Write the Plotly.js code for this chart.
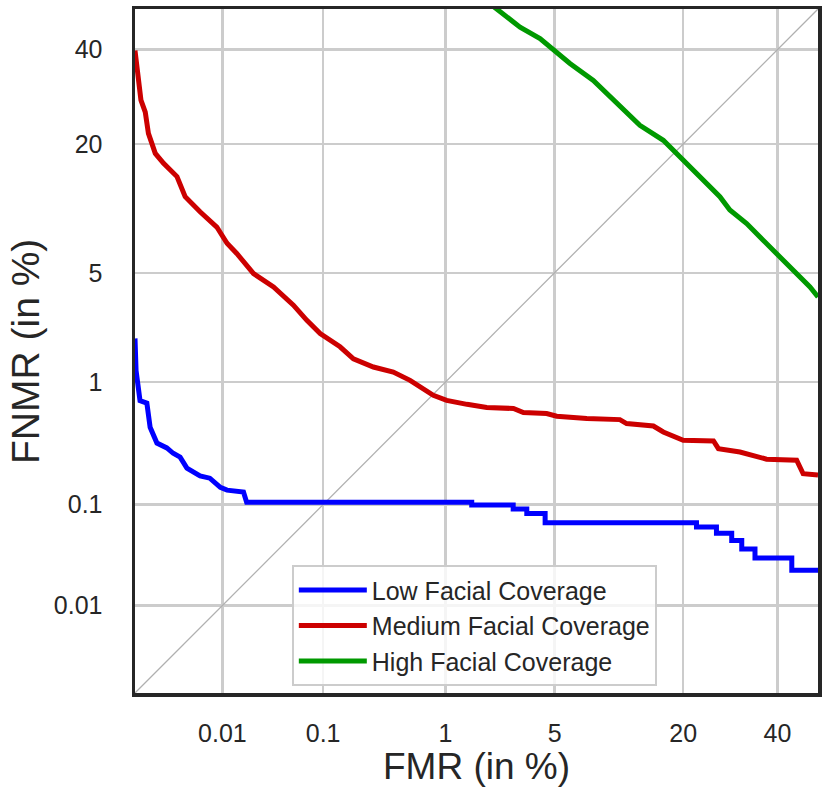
<!DOCTYPE html>
<html><head><meta charset="utf-8">
<script src="https://cdn.plot.ly/plotly-3.0.1.min.js"></script>
<style>html,body{margin:0;padding:0;background:#fff}</style>
</head><body><div id="chart" style="width:832px;height:795px"></div>
<script>
// Values in percent
const tickValuesPct = [0.01, 0.1, 1, 5, 20, 40];
const tickLabels = ['0.01', '0.1', '1', '5', '20', '40'];
const axisMinPct = 0.001, axisMaxPct = 50;

const diagPct = [0.001, 50];

const lowFMR = [0.001, 0.00103, 0.00115, 0.00139, 0.00152, 0.00183, 0.00239, 0.00283, 0.0034, 0.00406, 0.0057, 0.0073, 0.0095, 0.0112, 0.0167, 0.018, 1.53, 1.53, 2.85, 2.85, 3.45, 3.45, 4.42, 4.42, 22.4, 22.4, 26.3, 26.3, 29.5, 29.5, 31.7, 31.7, 34.7, 34.7, 43.5, 43.5, 50];
const lowFNMR = [2.0, 1.21, 0.73, 0.70, 0.455, 0.34, 0.31, 0.28, 0.26, 0.21, 0.18, 0.172, 0.143, 0.135, 0.13, 0.105, 0.105, 0.099, 0.099, 0.091, 0.091, 0.083, 0.083, 0.068, 0.068, 0.062, 0.062, 0.054, 0.054, 0.046, 0.046, 0.038, 0.038, 0.031, 0.031, 0.0233, 0.0233];

const medFMR = [0.001, 0.0011, 0.00118, 0.00133, 0.00145, 0.00175, 0.00219, 0.00313, 0.00388, 0.0057, 0.0087, 0.0112, 0.0142, 0.0212, 0.0337, 0.0527, 0.0707, 0.094, 0.142, 0.186, 0.275, 0.40, 0.543, 0.815, 1.02, 1.42, 1.93, 2.86, 3.29, 4.51, 5.14, 7.44, 10.8, 11.6, 15.2, 16.7, 20.0, 25.7, 26.7, 31.3, 34.3, 37.4, 44.7, 46.3, 50];
const medFNMR = [39.8, 32.8, 28.5, 26.0, 21.9, 18.4, 16.8, 14.8, 12.1, 10.3, 8.7, 7.2, 6.37, 4.95, 4.15, 3.24, 2.61, 2.15, 1.76, 1.46, 1.28, 1.18, 1.03, 0.80, 0.734, 0.685, 0.648, 0.637, 0.593, 0.583, 0.556, 0.533, 0.523, 0.487, 0.466, 0.418, 0.358, 0.354, 0.306, 0.287, 0.270, 0.250, 0.245, 0.188, 0.183];

const highFMR = [1.83, 2.30, 3.14, 4.13, 4.92, 6.07, 8.03, 10.8, 13.3, 16.7, 19.4, 22.45, 27.0, 29.1, 32.8, 36.6, 40.6, 43.9, 48.0, 50];
const highFNMR = [52.6, 49.7, 45.5, 42.7, 40.0, 36.7, 32.8, 27.1, 23.4, 20.65, 17.8, 15.2, 12.1, 10.5, 9.05, 7.47, 6.1, 5.17, 4.15, 3.63];

const seriesNames = ['Low Facial Coverage', 'Medium Facial Coverage', 'High Facial Coverage'];
const seriesColors = ['#0000ff', '#cc0000', '#009900'];

// Normal-deviate (probit) scale transform used for DET axes
function probit(p) {
  const a = [-3.969683028665376e+01, 2.209460984245205e+02, -2.759285104469687e+02, 1.383577518672690e+02, -3.066479806614716e+01, 2.506628277459239e+00];
  const b = [-5.447609879822406e+01, 1.615858368580409e+02, -1.556989798598866e+02, 6.680131188771972e+01, -1.328068155288572e+01];
  const c = [-7.784894002430293e-03, -3.223964580411365e-01, -2.400758277161838e+00, -2.549732539343734e+00, 4.374664141464968e+00, 2.938163982698783e+00];
  const d = [7.784695709041462e-03, 3.224671290700398e-01, 2.445134137142996e+00, 3.754408661907416e+00];
  const plow = 0.02425, phigh = 1 - plow;
  let q, r;
  if (p < plow) {
    q = Math.sqrt(-2 * Math.log(p));
    return (((((c[0]*q+c[1])*q+c[2])*q+c[3])*q+c[4])*q+c[5]) / ((((d[0]*q+d[1])*q+d[2])*q+d[3])*q+1);
  } else if (p <= phigh) {
    q = p - 0.5; r = q * q;
    return (((((a[0]*r+a[1])*r+a[2])*r+a[3])*r+a[4])*r+a[5])*q / (((((b[0]*r+b[1])*r+b[2])*r+b[3])*r+b[4])*r+1);
  } else {
    q = Math.sqrt(-2 * Math.log(1 - p));
    return -(((((c[0]*q+c[1])*q+c[2])*q+c[3])*q+c[4])*q+c[5]) / ((((d[0]*q+d[1])*q+d[2])*q+d[3])*q+1);
  }
}
const pz = arr => arr.map(v => probit(v / 100));

const fontFam = '"Liberation Sans", Arial, Helvetica, sans-serif';
const txtCol = '#262626';

const traces = [
  {x: pz(diagPct), y: pz(diagPct), mode: 'lines', line: {color: '#b0b0b0', width: 1.3}, showlegend: false, hoverinfo: 'skip'},
  {x: pz(lowFMR), y: pz(lowFNMR), name: seriesNames[0], mode: 'lines', line: {color: seriesColors[0], width: 5}},
  {x: pz(medFMR), y: pz(medFNMR), name: seriesNames[1], mode: 'lines', line: {color: seriesColors[1], width: 5}},
  {x: pz(highFMR), y: pz(highFNMR), name: seriesNames[2], mode: 'lines', line: {color: seriesColors[2], width: 5}}
];

const axisCommon = {
  range: [probit(axisMinPct / 100), probit(axisMaxPct / 100)],
  tickmode: 'array',
  tickvals: pz(tickValuesPct),
  ticktext: tickLabels,
  showgrid: true, gridcolor: '#cccccc', gridwidth: 2.5,
  zeroline: false,
  showline: true, linecolor: '#262626', linewidth: 3.5, mirror: true,
  ticks: 'outside', tickcolor: 'rgba(0,0,0,0)',
  tickfont: {family: fontFam, size: 25, color: txtCol},
  automargin: false
};

const layout = {
  width: 832, height: 795,
  margin: {l: 135, r: 14, t: 9, b: 102},
  paper_bgcolor: '#ffffff', plot_bgcolor: '#ffffff',
  font: {family: fontFam, color: txtCol},
  xaxis: Object.assign({}, axisCommon, {ticklen: 15, title: {text: 'FMR (in %)', font: {family: fontFam, size: 37, color: txtCol}, standoff: 5}}),
  yaxis: Object.assign({}, axisCommon, {ticklen: 24}),
  annotations: [{
    text: 'FNMR (in %)', xref: 'paper', yref: 'paper', x: -0.1955, y: 0.5,
    xanchor: 'left', yanchor: 'middle', textangle: -90, showarrow: false,
    font: {family: fontFam, size: 39, color: txtCol}
  }],
  legend: {
    x: 0.2296, y: 0.1868, xanchor: 'left', yanchor: 'top',
    bgcolor: 'rgba(255,255,255,0.8)', bordercolor: '#cccccc', borderwidth: 2,
    font: {family: fontFam, size: 25, color: txtCol},
    itemwidth: 68
  },
  showlegend: true
};

Plotly.newPlot('chart', traces, layout, {displayModeBar: false, staticPlot: true});
</script>
</body></html>
